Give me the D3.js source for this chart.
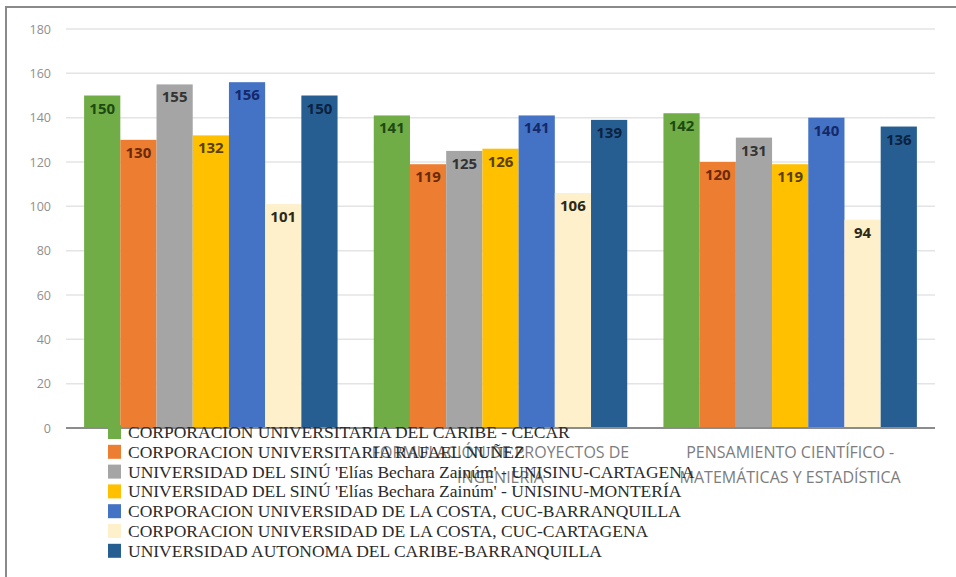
<!DOCTYPE html>
<html>
<head>
<meta charset="utf-8">
<style>
    body { margin: 0; background: white; }
    svg { display: block; }
    .tick text { font-family: "Open Sans", sans-serif; }
</style>
<script src="https://cdn.jsdelivr.net/npm/d3@7"></script>
</head>
<body>
<svg id="chart"></svg>
<script>
    // categories (first label is hidden behind the legend in the original)
    let categories = ["", "FORMULACIÓN DE PROYECTOS DE|INGENIERÍA", "PENSAMIENTO CIENTÍFICO -|MATEMÁTICAS Y ESTADÍSTICA"]
    let series = [
        "CORPORACION UNIVERSITARIA DEL CARIBE - CECAR",
        "CORPORACION UNIVERSITARIA RAFAEL NUÑEZ",
        "UNIVERSIDAD DEL SINÚ 'Elías Bechara Zainúm' - UNISINU-CARTAGENA",
        "UNIVERSIDAD DEL SINÚ 'Elías Bechara Zainúm' - UNISINU-MONTERÍA",
        "CORPORACION UNIVERSIDAD DE LA COSTA, CUC-BARRANQUILLA",
        "CORPORACION UNIVERSIDAD DE LA COSTA, CUC-CARTAGENA",
        "UNIVERSIDAD AUTONOMA DEL CARIBE-BARRANQUILLA"
    ]
    // one row per series, one value per category
    let values = [
        [150, 141, 142],
        [130, 119, 120],
        [155, 125, 131],
        [132, 126, 119],
        [156, 141, 140],
        [101, 106, 94],
        [150, 139, 136]
    ]
    let yTicks = [0, 20, 40, 60, 80, 100, 120, 140, 160, 180]

    let colors = ["#70ad47", "#ed7d31", "#a5a5a5", "#ffc000", "#4472c4", "#fdf0cb", "#275e92"]
    let labelColors = ["#1d4a10", "#6b2a06", "#333333", "#5a3f00", "#14296a", "#2e2818", "#0b2240"]

    let width = 956, height = 577
    let svg = d3.select("#chart").attr("width", width).attr("height", height)

    // outer frame
    svg.append("rect")
        .attr("x", 6).attr("y", 7)
        .attr("width", width + 10).attr("height", height + 10)
        .attr("fill", "white")
        .attr("stroke", "#8a8a8a")
        .attr("stroke-width", 2)

    let plotLeft = 66, plotRight = 935, plotTop = 29, plotBottom = 428

    let y = d3.scaleLinear().domain([0, 180]).range([plotBottom, plotTop])
    let x0 = d3.scaleBand().domain(d3.range(categories.length)).range([plotLeft, plotRight])
        .paddingInner(0.125).paddingOuter(0.0625)
    let x1 = d3.scaleBand().domain(d3.range(series.length)).range([0, x0.bandwidth()])

    // gridlines
    svg.append("g")
        .selectAll("line")
        .data(yTicks.filter(d => d > 0))
        .enter().append("line")
        .attr("x1", plotLeft).attr("x2", plotRight)
        .attr("y1", d => y(d)).attr("y2", d => y(d))
        .attr("stroke", "#e4e4e4")
        .attr("stroke-width", 1.5)

    // y axis labels
    let yAxis = svg.append("g")
        .attr("transform", `translate(${plotLeft - 15},0)`)
        .call(d3.axisLeft(y).tickValues(yTicks).tickSize(0).tickPadding(0))
    yAxis.select(".domain").remove()
    yAxis.selectAll("text")
        .attr("fill", "#8f8f8f")
        .style("font-size", "12.5px")

    // bars
    let groups = svg.append("g")
        .selectAll("g")
        .data(categories)
        .enter().append("g")
        .attr("transform", (d, i) => `translate(${x0(i)},0)`)

    groups.each(function(c, ci) {
        let g = d3.select(this)
        let rows = series.map((s, si) => ({si: si, v: values[si][ci]}))
        g.selectAll("rect")
            .data(rows)
            .enter().append("rect")
            .attr("x", d => x1(d.si))
            .attr("y", d => y(d.v))
            .attr("width", x1.bandwidth())
            .attr("height", d => plotBottom - y(d.v))
            .attr("fill", d => colors[d.si])

        g.selectAll("text")
            .data(rows)
            .enter().append("text")
            .attr("x", d => x1(d.si) + x1.bandwidth() / 2)
            .attr("y", d => y(d.v) + 18)
            .attr("text-anchor", "middle")
            .attr("fill", d => labelColors[d.si])
            .style("font-family", "'Open Sans', sans-serif")
            .style("font-weight", "bold")
            .style("font-size", "15px")
            .text(d => d.v)
    })

    // x axis baseline
    svg.append("line")
        .attr("x1", plotLeft).attr("x2", plotRight)
        .attr("y1", plotBottom).attr("y2", plotBottom)
        .attr("stroke", "#8c8c8c")
        .attr("stroke-width", 2)

    // category labels
    categories.forEach((c, i) => {
        let t = svg.append("text")
            .attr("x", x0(i) + x0.bandwidth() / 2)
            .attr("y", 458)
            .attr("text-anchor", "middle")
            .attr("fill", "#7d7d7d")
            .style("font-family", "'Open Sans', sans-serif")
            .style("font-size", "16px")
        c.split("|").forEach((line, li) => {
            t.append("tspan")
                .attr("x", x0(i) + x0.bandwidth() / 2)
                .attr("dy", li == 0 ? 0 : 25)
                .text(line)
        })
    })

    // legend, drawn over the chart like the original
    let legend = svg.append("g")
        .selectAll("g")
        .data(series)
        .enter().append("g")
        .attr("transform", (d, i) => `translate(108, ${432 + i * 19.8})`)

    legend.append("rect")
        .attr("x", 0).attr("y", -7)
        .attr("width", 13).attr("height", 14)
        .attr("fill", (d, i) => colors[i])

    legend.append("text")
        .attr("x", 20)
        .attr("y", 6)
        .attr("fill", "#2b2b2b")
        .style("font-family", "'Liberation Serif', serif")
        .style("font-size", "17.5px")
        .text(d => d)
</script>
</body>
</html>
